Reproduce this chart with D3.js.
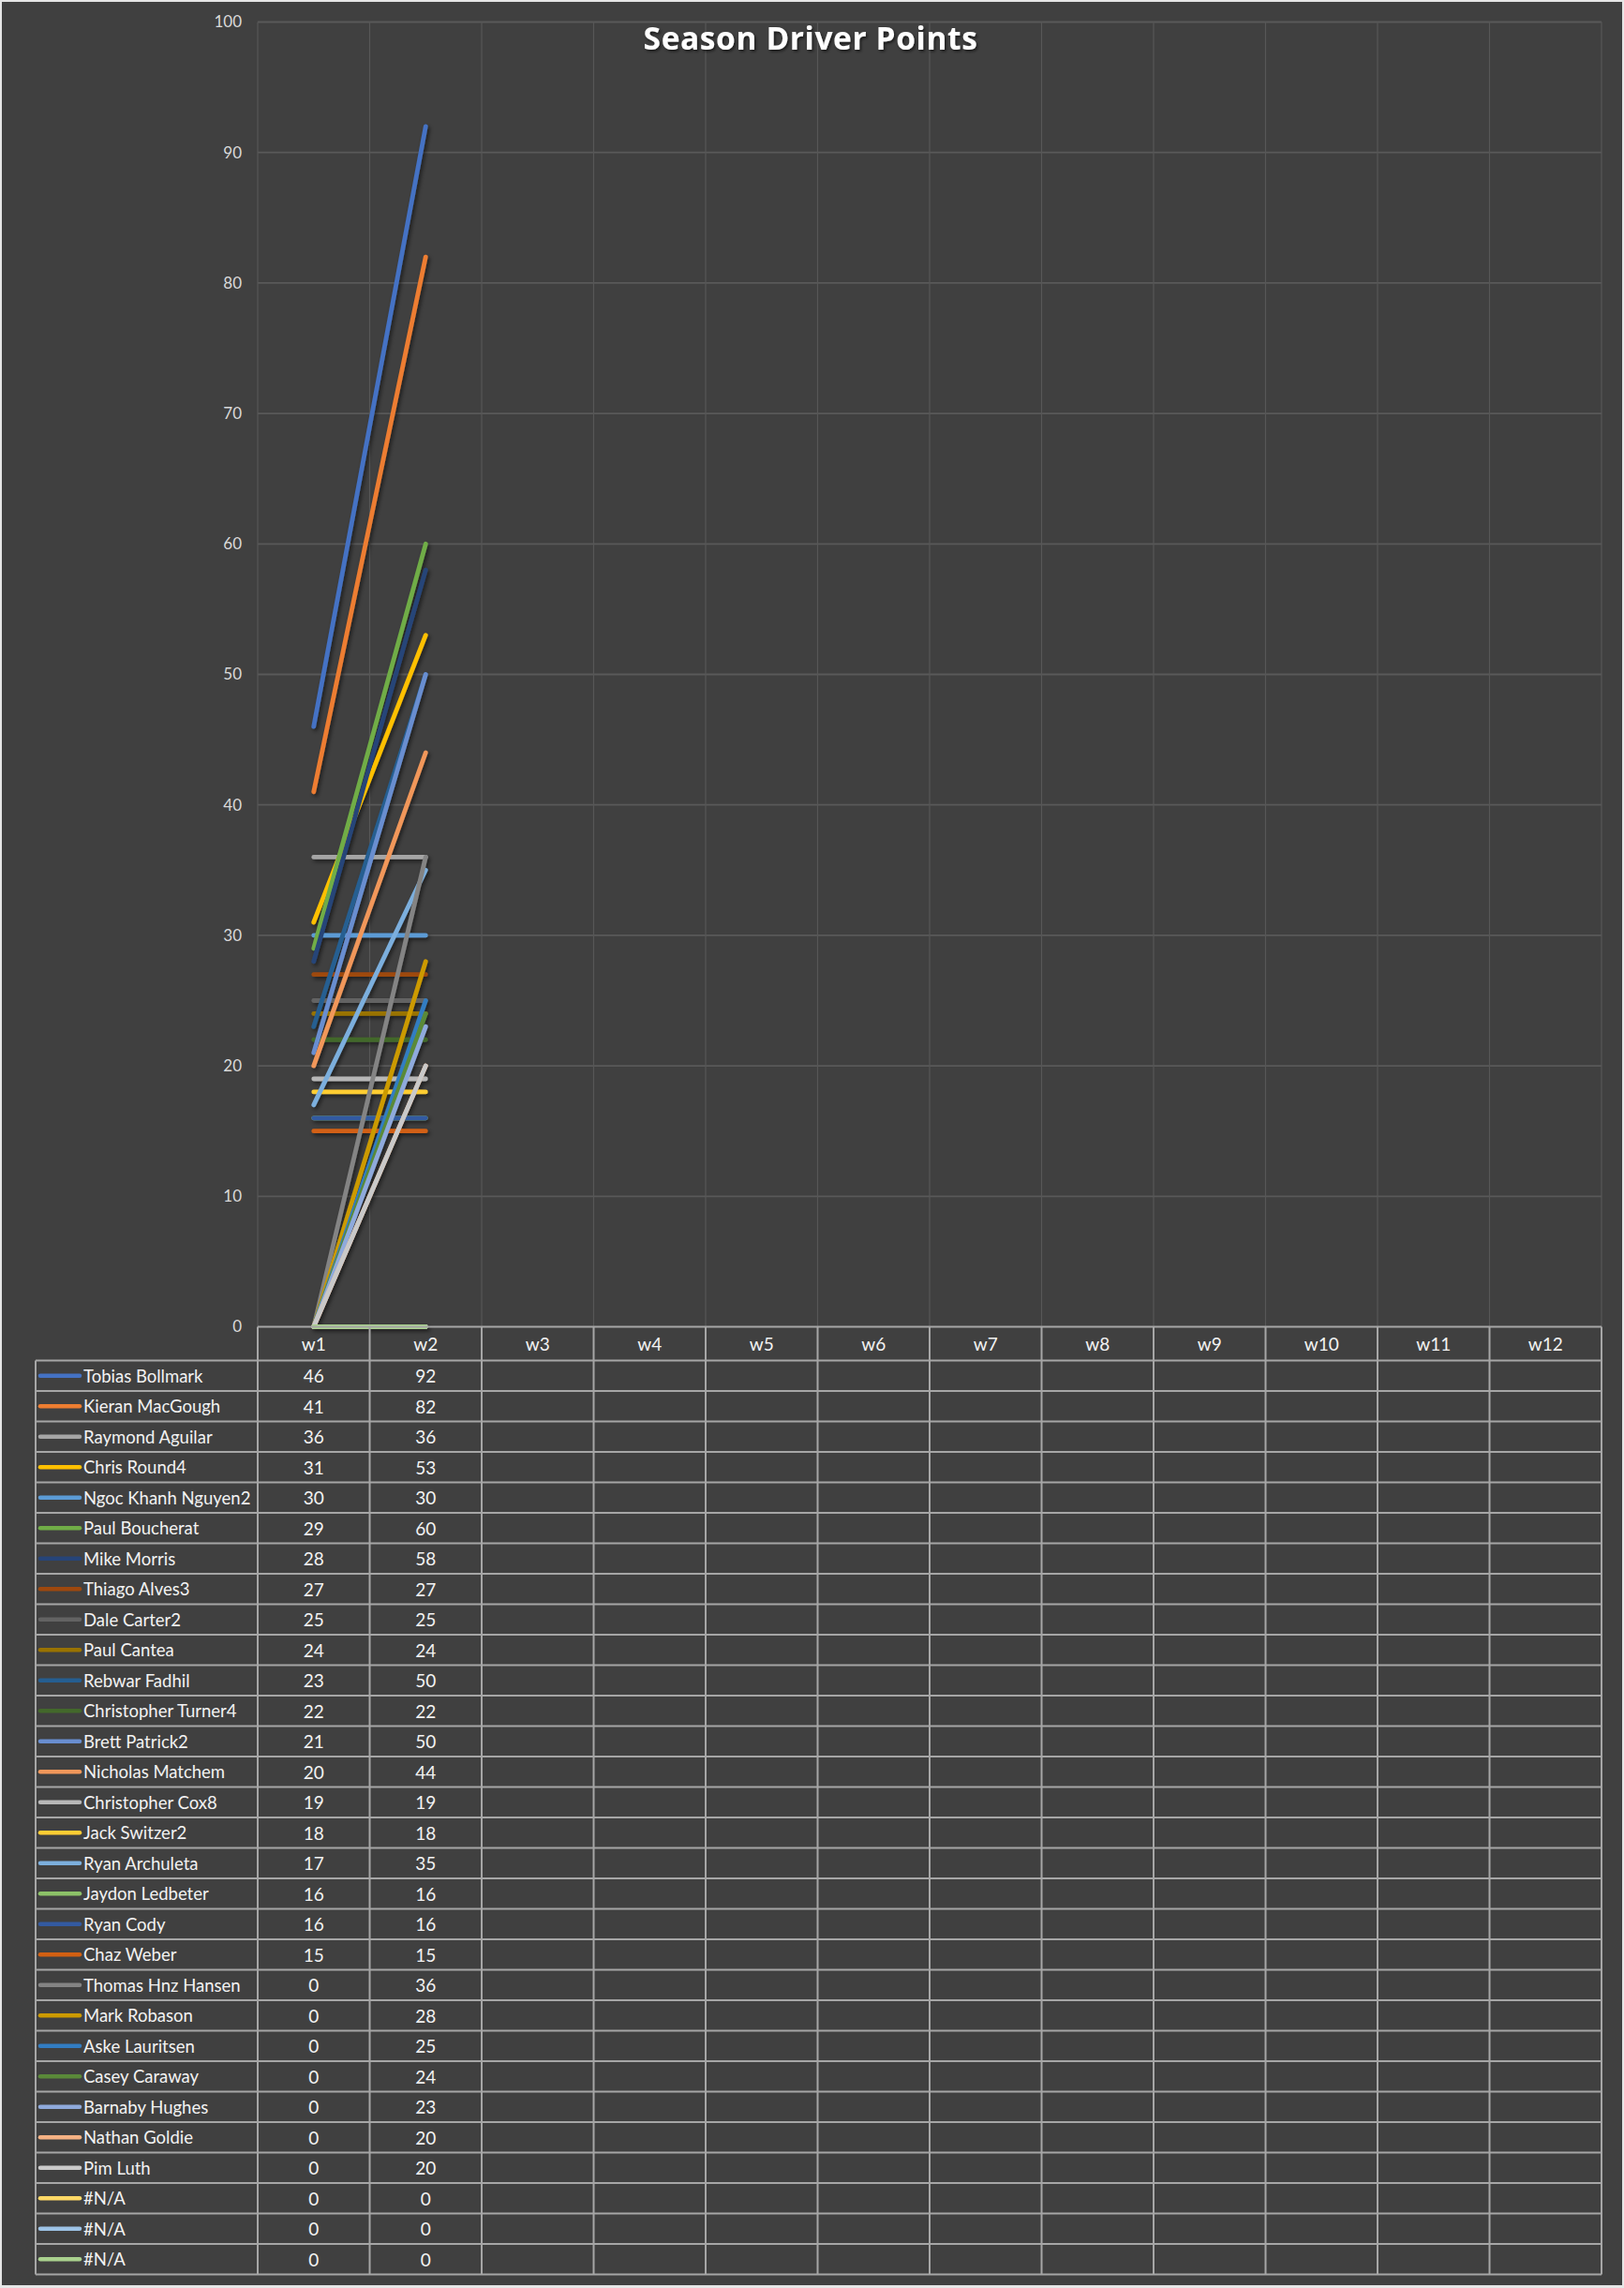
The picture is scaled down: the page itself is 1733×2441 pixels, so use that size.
<!DOCTYPE html>
<html>
<head>
<meta charset="utf-8">
<script src="https://cdn.jsdelivr.net/npm/d3@7"></script>
<style>
  html, body { margin: 0; padding: 0; background: #e6e6e6; }
  svg { display: block; }
  text { font-family: Lato, "Open Sans", sans-serif; }
</style>
</head>
<body>
<svg id="chart" width="1733" height="2441"></svg>
<script>
// ---- data ----
const weeks = ["w1","w2","w3","w4","w5","w6","w7","w8","w9","w10","w11","w12"];
const drivers = [
  "Tobias Bollmark","Kieran MacGough","Raymond Aguilar","Chris Round4","Ngoc Khanh Nguyen2",
  "Paul Boucherat","Mike Morris","Thiago Alves3","Dale Carter2","Paul Cantea",
  "Rebwar Fadhil","Christopher Turner4","Brett Patrick2","Nicholas Matchem","Christopher Cox8",
  "Jack Switzer2","Ryan Archuleta","Jaydon Ledbeter","Ryan Cody","Chaz Weber",
  "Thomas Hnz Hansen","Mark Robason","Aske Lauritsen","Casey Caraway","Barnaby Hughes",
  "Nathan Goldie","Pim Luth","#N/A","#N/A","#N/A"
];
const w1Points = [46,41,36,31,30,29,28,27,25,24,23,22,21,20,19,18,17,16,16,15,0,0,0,0,0,0,0,0,0,0];
const w2Points = [92,82,36,53,30,60,58,27,25,24,50,22,50,44,19,18,35,16,16,15,36,28,25,24,23,20,20,0,0,0];
const yTicks = [0,10,20,30,40,50,60,70,80,90,100];
const seriesColors = [
  "#4472C4","#ED7D31","#A5A5A5","#FFC000","#5B9BD5","#70AD47","#264478","#9E480E","#636363","#997300",
  "#255E91","#43682B","#698ED0","#F1975A","#B7B7B7","#FFCD33","#7CAFDD","#8CC168","#335AA1","#D26012",
  "#848484","#CC9A00","#327DC2","#5A8A39","#8FAADC","#F4B183","#C9C9C9","#FFD966","#9DC3E6","#A9D18E"
];
const title = "Season Driver Points";

// ---- layout ----
const W = 1733, H = 2441;
const plotL = 275, plotR = 1709, plotT = 23.5, plotB = 1415.5;
const tableL = 38, headerH = 36, rowH = 32.5;

const svg = d3.select("#chart");

const defs = svg.append("defs");
const f = defs.append("filter").attr("id","shadow").attr("x","-20%").attr("y","-20%").attr("width","140%").attr("height","140%");
f.append("feDropShadow").attr("dx",2).attr("dy",2.5).attr("stdDeviation",2).attr("flood-color","#000").attr("flood-opacity",0.55);
const tf = defs.append("filter").attr("id","tshadow").attr("x","-10%").attr("y","-30%").attr("width","120%").attr("height","160%");
tf.append("feDropShadow").attr("dx",1.5).attr("dy",2).attr("stdDeviation",1.5).attr("flood-color","#000").attr("flood-opacity",0.6);

// chart background
svg.append("rect").attr("x",2).attr("y",2).attr("width",1729).attr("height",2436).attr("fill","#404040");

const x = d3.scaleBand().domain(weeks).range([plotL, plotR]);
const y = d3.scaleLinear().domain([0,100]).range([plotB, plotT]);

// gridlines
const grid = svg.append("g");
grid.selectAll("line.h").data(yTicks.filter(t => t > 0)).join("line")
  .attr("x1", plotL).attr("x2", plotR)
  .attr("y1", d => y(d)).attr("y2", d => y(d))
  .attr("stroke", "#595959").attr("stroke-width", 1.8);
const vb = weeks.map(w => x(w)).concat([plotR]);
grid.selectAll("line.v").data(vb).join("line")
  .attr("x1", d => d).attr("x2", d => d)
  .attr("y1", plotT).attr("y2", plotB)
  .attr("stroke", "#575757").attr("stroke-width", 1.2);

// y axis labels
const yAxis = d3.axisLeft(y).tickValues(yTicks).tickSize(0).tickPadding(17);
const ya = svg.append("g").attr("transform", `translate(${plotL},0)`).call(yAxis);
ya.select(".domain").remove();
ya.selectAll("text").attr("fill", "#d9d9d9").style("font-size", "17px").style("font-family", "Lato, sans-serif");

// title
svg.append("text").attr("x", 865).attr("y", 53).attr("text-anchor","middle")
  .attr("fill","#ffffff").attr("font-weight","bold").style("font-size","33.5px")
  .style("font-family","'Open Sans', sans-serif").style("letter-spacing","0.6px")
  .attr("filter","url(#tshadow)").text(title);

// lines
const series = drivers.map((name, i) => ({
  name, color: seriesColors[i],
  values: [{w:"w1", v:w1Points[i]}, {w:"w2", v:w2Points[i]}]
}));
const line = d3.line().x(d => x(d.w) + x.bandwidth()/2).y(d => y(d.v));
svg.append("g").attr("filter","url(#shadow)")
  .selectAll("path").data(series).join("path")
  .attr("d", d => line(d.values))
  .attr("fill","none").attr("stroke", d => d.color)
  .attr("stroke-width", 4.8).attr("stroke-linecap","round").attr("stroke-linejoin","round");

// data table
const tableTop = plotB + headerH;
const tableBottom = tableTop + rowH * drivers.length;
const tg = svg.append("g");
const lineColor = "#a6a6a6";
tg.append("line").attr("x1", plotL).attr("x2", plotR).attr("y1", plotB).attr("y2", plotB)
  .attr("stroke", lineColor).attr("stroke-width", 2);
const rowYs = d3.range(drivers.length + 1).map(i => tableTop + i * rowH);
tg.selectAll("line.r").data(rowYs).join("line")
  .attr("x1", tableL).attr("x2", plotR).attr("y1", d => d).attr("y2", d => d)
  .attr("stroke", lineColor).attr("stroke-width", 2);
tg.append("line").attr("x1", tableL).attr("x2", tableL).attr("y1", tableTop).attr("y2", tableBottom)
  .attr("stroke", lineColor).attr("stroke-width", 2);
tg.selectAll("line.c").data(vb).join("line")
  .attr("x1", d => d).attr("x2", d => d).attr("y1", plotB).attr("y2", tableBottom)
  .attr("stroke", lineColor).attr("stroke-width", 2);

// header labels
tg.selectAll("text.hd").data(weeks).join("text")
  .attr("x", d => x(d) + x.bandwidth()/2).attr("y", plotB + headerH/2)
  .attr("text-anchor","middle").attr("dominant-baseline","central")
  .attr("fill","#f2f2f2").style("font-size","19px").text(d => d);

// rows
const rows = tg.selectAll("g.row").data(series).join("g")
  .attr("transform", (d, i) => `translate(0,${tableTop + i*rowH + rowH/2})`);
rows.append("line").attr("x1", 43).attr("x2", 85).attr("y1", 0).attr("y2", 0)
  .attr("stroke", d => d.color).attr("stroke-width", 4.5).attr("stroke-linecap","round");
rows.append("text").attr("x", 89).attr("y", 0).attr("dominant-baseline","central")
  .attr("fill","#f2f2f2").style("font-size","18.5px").text(d => d.name);
rows.append("text").attr("x", x("w1") + x.bandwidth()/2).attr("y", 0)
  .attr("text-anchor","middle").attr("dominant-baseline","central")
  .attr("fill","#f2f2f2").style("font-size","19px").text((d, i) => w1Points[i]);
rows.append("text").attr("x", x("w2") + x.bandwidth()/2).attr("y", 0)
  .attr("text-anchor","middle").attr("dominant-baseline","central")
  .attr("fill","#f2f2f2").style("font-size","19px").text((d, i) => w2Points[i]);
</script>
</body>
</html>
